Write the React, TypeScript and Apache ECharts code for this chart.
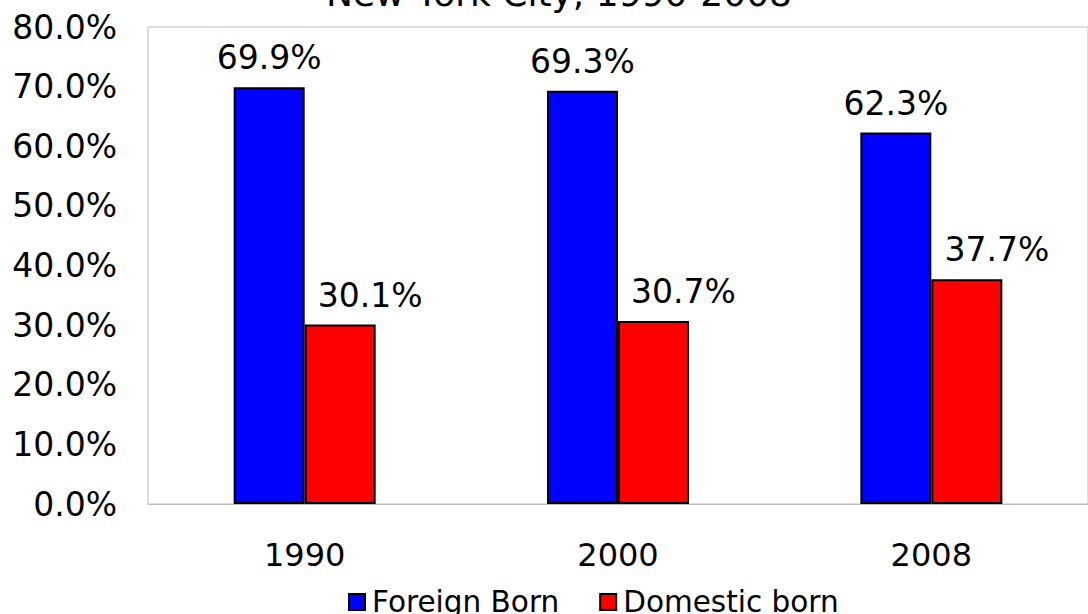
import React, { useEffect, useRef } from "react";
import * as echarts from "echarts";

const years = ["1990", "2000", "2008"];
const foreignBorn = [69.9, 69.3, 62.3];
const domesticBorn = [30.1, 30.7, 37.7];
const titleText = "New York City, 1990-2008";
const seriesNames = ["Foreign Born", "Domestic born"];

const FONT = "'DejaVu Sans', Verdana, sans-serif";

export default function App() {
  const ref = useRef<HTMLDivElement>(null);
  useEffect(() => {
    if (!ref.current) return;
    const chart = echarts.init(ref.current, null, { renderer: "svg" });
    const fmt = (v: number) => v.toFixed(1) + "%";
    chart.setOption({
      animation: false,
      backgroundColor: "#ffffff",
      textStyle: { fontFamily: FONT },
      graphic: [
        {
          type: "text",
          x: 559,
          y: 11,
          style: {
            text: titleText,
            fontFamily: FONT,
            fontSize: 36,
            fill: "#000",
            textAlign: "center",
            textVerticalAlign: "bottom",
          },
        },
      ],
      legend: {
        data: seriesNames,
        bottom: -3,
        left: 348,
        padding: 0,
        icon: "rect",
        itemWidth: 16,
        itemHeight: 16,
        itemGap: 40,
        textStyle: { fontFamily: FONT, fontSize: 29.5, color: "#000", padding: [0, 0, 0, 2] },
        itemStyle: { borderColor: "#000", borderWidth: 2 },
      },
      grid: {
        left: 148,
        top: 27,
        width: 951,
        height: 477,
        show: true,
        borderColor: "#bcbcbc",
        borderWidth: 1,
        containLabel: false,
      },
      xAxis: {
        type: "category",
        data: years,
        axisLine: { show: true, lineStyle: { color: "#bcbcbc", width: 1 } },
        axisTick: { show: false },
        axisLabel: { fontFamily: FONT, fontSize: 32, color: "#000", margin: 35 },
      },
      yAxis: {
        type: "value",
        min: 0,
        max: 80,
        interval: 10,
        axisLine: { show: false },
        axisTick: { show: false },
        splitLine: { show: false },
        axisLabel: {
          fontFamily: FONT,
          fontSize: 33,
          color: "#000",
          margin: 31,
          formatter: (v: number) => fmt(v),
        },
      },
      series: [
        {
          name: seriesNames[0],
          type: "bar",
          data: foreignBorn,
          barWidth: 71,
          barGap: "0%",
          itemStyle: { color: "#0000ff", borderColor: "#000", borderWidth: 2 },
          label: {
            show: true,
            position: "top",
            distance: 13,
            fontFamily: FONT,
            fontSize: 33,
            color: "#000",
            formatter: (p: any) => fmt(p.value),
          },
        },
        {
          name: seriesNames[1],
          type: "bar",
          data: domesticBorn,
          barWidth: 71,
          barGap: "0%",
          itemStyle: { color: "#ff0000", borderColor: "#000", borderWidth: 2 },
          label: {
            show: true,
            position: "top",
            distance: 13,
            offset: [30, 0],
            fontFamily: FONT,
            fontSize: 33,
            color: "#000",
            formatter: (p: any) => fmt(p.value),
          },
        },
      ],
    });
    return () => chart.dispose();
  }, []);
  return (
    <div
      ref={ref}
      style={{ position: "fixed", left: 0, top: 0, width: 1088, height: 614 }}
    />
  );
}
